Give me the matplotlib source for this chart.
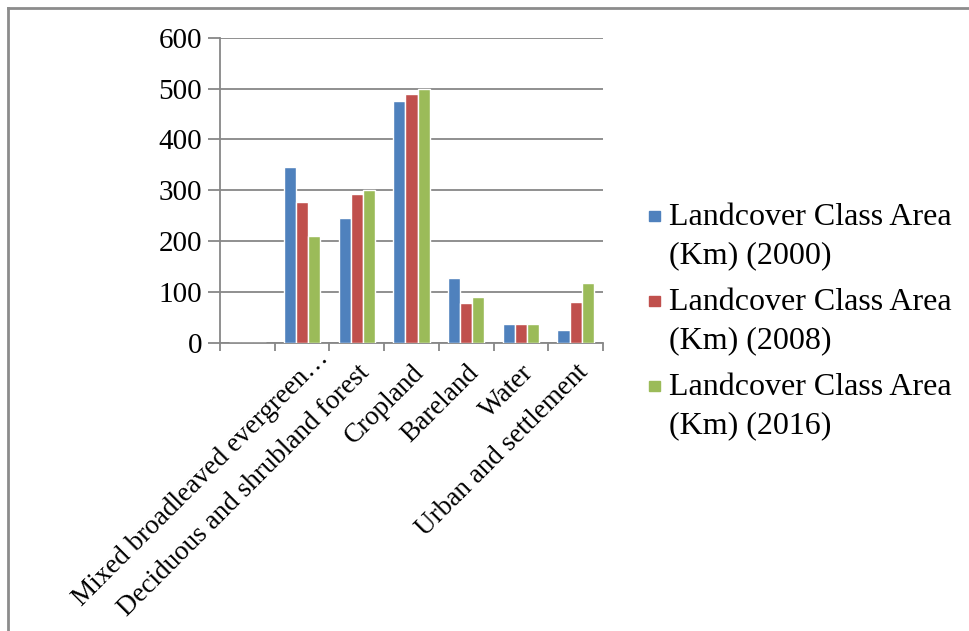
import numpy as np
import matplotlib.pyplot as plt
from matplotlib.patches import Rectangle

categories = ['', 'Mixed broadleaved evergreen\u2026', 'Deciduous and shrubland forest',
              'Cropland', 'Bareland', 'Water', 'Urban and settlement']
area_2000 = [0, 345, 245, 476, 127, 37, 25]
area_2008 = [0, 276, 293, 490, 78, 36, 81]
area_2016 = [0, 210, 300, 500, 90, 37, 117]
series_names = ['Landcover Class Area\n(Km) (2000)',
                'Landcover Class Area\n(Km) (2008)',
                'Landcover Class Area\n(Km) (2016)']
colors = ['#4F81BD', '#C0504D', '#9BBB59']
yticks = [0, 100, 200, 300, 400, 500, 600]

plt.rcParams['font.family'] = ['Liberation Serif', 'DejaVu Serif']

fig = plt.figure(figsize=(9.69, 6.31), dpi=100)
ax = fig.add_axes([220/969, 1-342.7/631, 383/969, 305/631])

x = np.arange(len(categories))
w = 1/4.5
for k, vals in enumerate([area_2000, area_2008, area_2016]):
    ax.bar(x + (k-1)*w, vals, width=w, color=colors[k], edgecolor='white', linewidth=1.0, zorder=3)

ax.set_xlim(-0.5, len(categories)-0.5)
ax.set_ylim(0, 600)
ax.set_yticks(yticks)
ax.set_yticklabels([str(v) for v in yticks], fontsize=21)
ax.grid(axis='y', color='#878787', linewidth=1.3, zorder=0)
ax.tick_params(axis='y', length=9, width=1.3, color='#878787', pad=4)

# category boundary ticks
ax.set_xticks(np.arange(len(categories)+1) - 0.5)
ax.set_xticklabels([])
ax.tick_params(axis='x', length=6, width=1.3, color='#878787', direction='out')
for i, lab in enumerate(categories):
    dx, dy = 0.0, -34
    if lab.endswith('\u2026'):
        # truncated label sits a bit further right, like the original
        dx, dy = 0.25, -6
    ax.text(i + dx, dy, lab, rotation=45, ha='right', va='top', rotation_mode='anchor',
            fontsize=19.5, transform=ax.transData)

for s in ['top', 'right']:
    ax.spines[s].set_visible(False)
for s in ['left', 'bottom']:
    ax.spines[s].set_color('#878787')
    ax.spines[s].set_linewidth(1.3)

# legend
for k, name in enumerate(series_names):
    base = 228 + k*85
    fig.patches.append(Rectangle((649/969, 1-(base-7)/631), 11/969, 10/631,
                                 transform=fig.transFigure, color=colors[k]))
    fig.text(669/969, 1-(base-25)/631, name, fontsize=23, ha='left', va='top', linespacing=1.4)

# outer border (top and left)
fig.add_artist(plt.Line2D([8/969, 1], [1-7.5/631, 1-7.5/631], color='#8c8c8c', linewidth=2))
fig.add_artist(plt.Line2D([8/969, 8/969], [0, 1-7.5/631], color='#8c8c8c', linewidth=2))

fig.savefig('out.png', dpi=100)
